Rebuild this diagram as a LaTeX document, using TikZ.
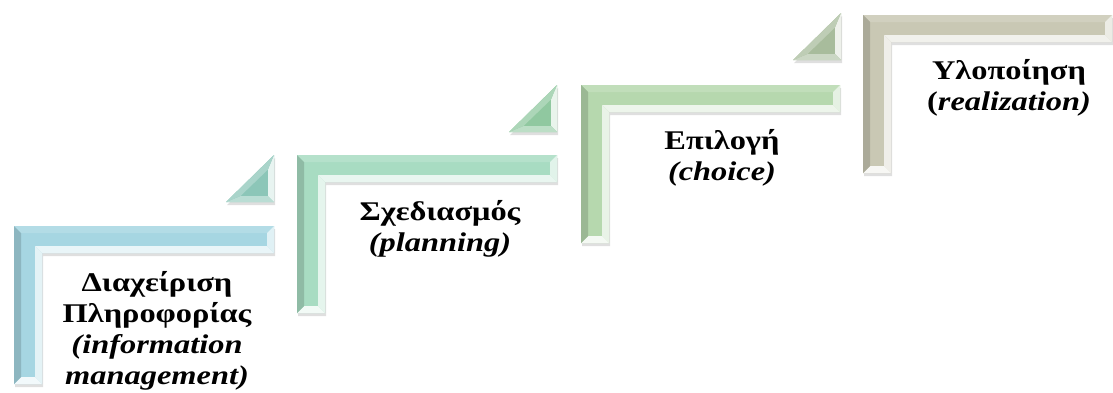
\documentclass[tikz,border=0pt]{standalone}
\usepackage{fontspec}
\setmainfont{Liberation Serif}
\usetikzlibrary{shadows}

\definecolor{stepa}{HTML}{A6D6E2}
\definecolor{stepb}{HTML}{A8DCC2}
\definecolor{stepc}{HTML}{B6D8AE}
\definecolor{stepd}{HTML}{C9C8B4}
\definecolor{tria}{HTML}{8CC6B8}
\definecolor{trib}{HTML}{90C8A0}
\definecolor{tric}{HTML}{A8BC9C}

\tikzset{
  shade/.style={drop shadow={opacity=0.25,shadow xshift=1pt,shadow yshift=-3pt}},
  steptext/.style={anchor=north,inner sep=0pt,align=center,xscale=1.2,font=\fontsize{27}{31}\selectfont\bfseries}
}

\begin{document}
\begin{tikzpicture}[x=1pt,y=-1pt]
\useasboundingbox (0,0) rectangle (1113,392);

% bevelled L shaped steps
\foreach \x/\y/\w/\c in {14/226/260/stepa,297/155/260/stepb,581/85/259/stepc,863/15/249/stepd}{
  \fill[\c,shade] (\x,\y) -- (\x+\w,\y) -- (\x+\w,\y+27) -- (\x+28,\y+27) -- (\x+28,\y+158) -- (\x,\y+158) -- cycle;
  \fill[\c!85!white] (\x,\y) -- (\x+\w,\y) -- (\x+\w-7,\y+7) -- (\x+7,\y+7) -- cycle;
  \fill[\c!35!white] (\x+\w,\y) -- (\x+\w,\y+27) -- (\x+\w-7,\y+20) -- (\x+\w-7,\y+7) -- cycle;
  \fill[\c!25!white] (\x+\w,\y+27) -- (\x+28,\y+27) -- (\x+21,\y+20) -- (\x+\w-7,\y+20) -- cycle;
  \fill[\c!30!white] (\x+28,\y+27) -- (\x+28,\y+158) -- (\x+21,\y+151) -- (\x+21,\y+20) -- cycle;
  \fill[\c!15!white] (\x+28,\y+158) -- (\x,\y+158) -- (\x+7,\y+151) -- (\x+21,\y+151) -- cycle;
  \fill[\c!85!black] (\x,\y+158) -- (\x,\y) -- (\x+7,\y+7) -- (\x+7,\y+151) -- cycle;
}

% small triangles between the steps
\foreach \r/\t/\c in {274/155/tria,557/85/trib,841/13/tric}{
  \fill[\c,shade] (\r,\t) -- (\r,\t+47) -- (\r-48,\t+47) -- cycle;
  \fill[\c!20!white] (\r,\t) -- (\r,\t+47) -- (\r-6,\t+41) -- (\r-6,\t+14.5) -- cycle;
  \fill[\c!60!white] (\r,\t+47) -- (\r-48,\t+47) -- (\r-33.5,\t+41) -- (\r-6,\t+41) -- cycle;
  \fill[\c!75!white] (\r-48,\t+47) -- (\r,\t) -- (\r-6,\t+14.5) -- (\r-33.5,\t+41) -- cycle;
}

\node[steptext] (info) at (157,271) {Διαχείριση\\Πληροφορίας\\\textit{(information}\\\textit{management)}};
\node[steptext] (plan) at (440,200) {Σχεδιασμός\\\textit{(planning)}};
\node[steptext] (choice) at (722,129) {Επιλογή\\\textit{(choice)}};
\node[steptext] (real) at (1009,59) {Υλοποίηση\\(\textit{realization)}};

\end{tikzpicture}
\end{document}
